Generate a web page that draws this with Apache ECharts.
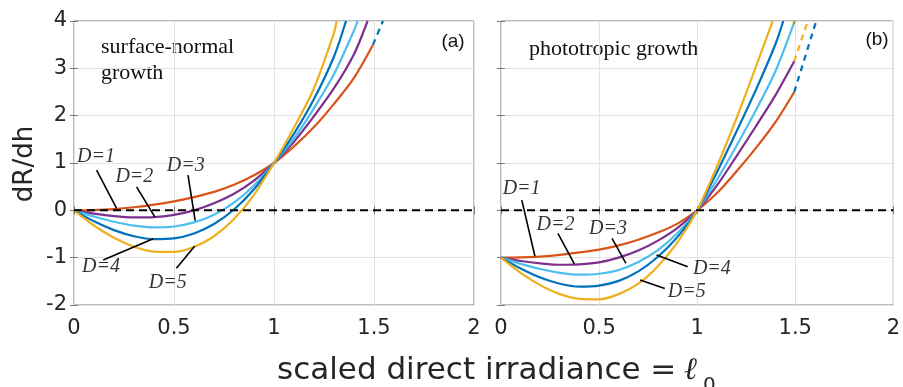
<!DOCTYPE html>
<html><head><meta charset="utf-8">
<script src="https://cdn.jsdelivr.net/npm/echarts@6/dist/echarts.min.js"></script>
<style>html,body{margin:0;padding:0;background:#fff}#c{width:903px;height:387px}</style>
</head><body><div id="c"></div>
<script>
// ---- data ----
const xTicks = [0, 0.5, 1, 1.5, 2];
const yTicks = [-2, -1, 0, 1, 2, 3, 4];
const curveNames = ['D=1', 'D=2', 'D=3', 'D=4', 'D=5'];
const curveColors = ['#D95319', '#7E2F8E', '#4DBEEE', '#0072BD', '#EDB120'];

// panel (a): surface-normal growth
const leftD1 = [[0,0],[0.1,0.005],[0.2,0.025],[0.3,0.065],[0.4,0.12],[0.5,0.19],[0.6,0.28],[0.7,0.39],[0.8,0.54],[0.9,0.74],[1,1],[1.1,1.35],[1.2,1.76],[1.3,2.25],[1.4,2.8],[1.495,3.5]];
const leftD2 = [[0,0],[0.1,-0.071],[0.2,-0.124],[0.3,-0.15],[0.4,-0.143],[0.5,-0.095],[0.6,0],[0.7,0.15],[0.8,0.35],[0.9,0.63],[1,1],[1.1,1.45],[1.2,1.99],[1.3,2.58],[1.4,3.3],[1.468,4]];
const leftD3 = [[0,0],[0.1,-0.13],[0.2,-0.241],[0.3,-0.322],[0.4,-0.359],[0.5,-0.341],[0.6,-0.255],[0.7,-0.091],[0.8,0.165],[0.9,0.525],[1,1],[1.1,1.52],[1.2,2.16],[1.3,2.88],[1.4,3.8],[1.418,4]];
const leftD4 = [[0,0],[0.1,-0.232],[0.2,-0.418],[0.3,-0.547],[0.4,-0.609],[0.5,-0.594],[0.6,-0.491],[0.7,-0.29],[0.8,0.018],[0.9,0.445],[1,1],[1.1,1.62],[1.2,2.35],[1.3,3.25],[1.36,4]];
const leftD5 = [[0,0],[0.1,-0.32],[0.2,-0.58],[0.3,-0.769],[0.4,-0.872],[0.5,-0.879],[0.6,-0.774],[0.7,-0.547],[0.8,-0.184],[0.9,0.328],[1,1],[1.1,1.75],[1.2,2.58],[1.3,3.75],[1.313,4]];
const leftDashBlue = [[1.495,3.5],[1.545,4]];

// panel (b): phototropic growth
const rightD1 = [[0,-1],[0.1,-0.995],[0.2,-0.98],[0.3,-0.94],[0.4,-0.89],[0.5,-0.83],[0.6,-0.74],[0.7,-0.62],[0.8,-0.47],[0.9,-0.28],[1,0],[1.1,0.36],[1.2,0.82],[1.3,1.32],[1.4,1.87],[1.495,2.5]];
const rightD2 = [[0,-1],[0.1,-1.07],[0.2,-1.12],[0.3,-1.15],[0.4,-1.14],[0.5,-1.1],[0.6,-1.0],[0.7,-0.85],[0.8,-0.64],[0.9,-0.37],[1,0],[1.1,0.52],[1.2,1.14],[1.3,1.78],[1.4,2.44],[1.495,3.15]];
const rightD3 = [[0,-1],[0.1,-1.13],[0.2,-1.24],[0.3,-1.32],[0.4,-1.36],[0.5,-1.34],[0.6,-1.26],[0.7,-1.09],[0.8,-0.84],[0.9,-0.48],[1,0],[1.1,0.64],[1.2,1.36],[1.3,2.12],[1.4,2.95],[1.49,3.92]];
const rightD4 = [[0,-1],[0.1,-1.23],[0.2,-1.42],[0.3,-1.55],[0.4,-1.61],[0.5,-1.59],[0.6,-1.49],[0.7,-1.29],[0.8,-0.98],[0.9,-0.56],[1,0],[1.1,0.8],[1.2,1.66],[1.3,2.55],[1.4,3.52],[1.439,4]];
const rightD5 = [[0,-1],[0.1,-1.32],[0.2,-1.58],[0.3,-1.77],[0.4,-1.87],[0.5,-1.88],[0.6,-1.77],[0.7,-1.55],[0.8,-1.18],[0.9,-0.67],[1,0],[1.1,0.92],[1.2,1.94],[1.3,3.04],[1.385,4]];
const rightDashBlue = [[1.495,2.5],[1.607,4]];
const rightDashYellow = [[1.495,3.15],[1.564,4]];
const rightDashGreen = [[1.49,3.92],[1.497,4]];

const zeroLine = [[0,0],[2,0]];

// annotation anchors (data units)
const leftLabelPos = [[0.11,1.13],[0.302,0.707],[0.559,0.939],[0.135,-1.19],[0.469,-1.53]];
const leftLeaders = [[[0.113,0.848],[0.213,0.04]],[[0.313,0.496],[0.404,-0.137]],[[0.570,0.743],[0.606,-0.22]],[[0.146,-1.051],[0.396,-0.6]],[[0.512,-1.226],[0.603,-0.76]]];
const rightLabelPos = [[0.105,0.46],[0.278,-0.31],[0.545,-0.38],[1.075,-1.23],[0.947,-1.72]];
const rightLeaders = [[[0.106,0.215],[0.173,-0.97]],[[0.290,-0.487],[0.374,-1.13]],[[0.566,-0.593],[0.637,-1.12]],[[0.793,-0.945],[0.952,-1.19]],[[0.709,-1.47],[0.835,-1.65]]];

// ---- chart ----
const SANS = '"DejaVu Sans", "Liberation Sans", sans-serif';
const SERIF = '"Liberation Serif", "DejaVu Serif", serif';
const chart = echarts.init(document.getElementById('c'), null, {renderer: 'canvas'});

function curve(data, color, xi, dashed) {
  return {type: 'line', data: data, xAxisIndex: xi, yAxisIndex: xi, showSymbol: false, symbol: 'none',
    smooth: 0.3, silent: true, z: 3,
    lineStyle: {color: color, width: 2.2, type: dashed ? [6, 5] : 'solid'}};
}
const series = [];
const leftCurves = [leftD1, leftD2, leftD3, leftD4, leftD5];
const rightCurves = [rightD1, rightD2, rightD3, rightD4, rightD5];
leftCurves.forEach((d, i) => series.push(curve(d, curveColors[i], 0, false)));
rightCurves.forEach((d, i) => series.push(curve(d, curveColors[i], 1, false)));
series.push(curve(leftDashBlue, '#0072BD', 0, true));
series.push(curve(rightDashBlue, '#0072BD', 1, true));
series.push(curve(rightDashYellow, '#EDB120', 1, true));
series.push(curve(rightDashGreen, '#77AC30', 1, true));
[0, 1].forEach(xi => series.push({type: 'line', data: zeroLine, xAxisIndex: xi, yAxisIndex: xi, symbol: 'none', silent: true, z: 5,
  lineStyle: {color: '#000', width: 2, type: [8, 5]}}));
function leaders(list, xi) {
  list.forEach(seg => series.push({type: 'line', data: seg, xAxisIndex: xi, yAxisIndex: xi, symbol: 'none', silent: true, z: 6,
    lineStyle: {color: '#000', width: 1.6}}));
}
leaders(leftLeaders, 0); leaders(rightLeaders, 1);
function labels(pos, xi) {
  series.push({type: 'scatter', xAxisIndex: xi, yAxisIndex: xi, symbolSize: 1, silent: true, z: 7,
    itemStyle: {color: 'rgba(0,0,0,0)'},
    data: pos.map((p, i) => ({value: p, name: curveNames[i]})),
    label: {show: true, position: 'inside', formatter: p => p.name,
      fontFamily: SERIF, fontStyle: 'italic', fontSize: 20, color: '#000'}});
}
labels(leftLabelPos, 0); labels(rightLabelPos, 1);

const gridBase = {top: 21, height: 284, show: true, borderColor: '#7a7a7a', borderWidth: 1, backgroundColor: '#fff', containLabel: false};
function xAx(gi, pos, showLabel) {
  return {type: 'value', gridIndex: gi, position: pos, min: xTicks[0], max: xTicks[xTicks.length-1], interval: 0.5,
    axisLine: {show: false},
    axisTick: {show: true, inside: true, length: 4, lineStyle: {color: '#7a7a7a'}},
    splitLine: {show: pos === 'bottom', lineStyle: {color: '#e3e3e3', width: 1}},
    axisLabel: {show: showLabel, margin: 13, fontFamily: SANS, fontSize: 21, color: '#262626', formatter: v => String(v)}};
}
function yAx(gi, pos, showLabel) {
  return {type: 'value', gridIndex: gi, position: pos, min: yTicks[0], max: yTicks[yTicks.length-1], interval: 1,
    axisLine: {show: false},
    axisTick: {show: true, inside: true, length: 4, lineStyle: {color: '#7a7a7a'}},
    splitLine: {show: pos === 'left', lineStyle: {color: '#e3e3e3', width: 1}},
    axisLabel: {show: showLabel, margin: 7, fontFamily: SANS, fontSize: 21, color: '#262626'}};
}

chart.setOption({
  animation: false,
  backgroundColor: '#fff',
  grid: [Object.assign({left: 74, width: 400}, gridBase), Object.assign({left: 501, width: 397}, gridBase)],
  xAxis: [xAx(0, 'bottom', true), xAx(1, 'bottom', true), xAx(0, 'top', false), xAx(1, 'top', false)],
  yAxis: [yAx(0, 'left', true), yAx(1, 'left', false), yAx(0, 'right', false), yAx(1, 'right', false)],
  series: series,
  graphic: [
    {type: 'text', x: 101, y: 47, style: {text: 'surface-normal', font: '22px ' + SERIF, fill: '#111', verticalAlign: 'middle'}},
    {type: 'text', x: 101, y: 73, style: {text: 'growth', font: '22px ' + SERIF, fill: '#111', verticalAlign: 'middle'}},
    {type: 'text', x: 453, y: 42, style: {text: '(a)', font: '19px "Liberation Sans", sans-serif', fill: '#111', align: 'center', verticalAlign: 'middle'}},
    {type: 'text', x: 529, y: 49, style: {text: 'phototropic growth', font: '22px ' + SERIF, fill: '#111', verticalAlign: 'middle'}},
    {type: 'text', x: 877, y: 40, style: {text: '(b)', font: '19px "Liberation Sans", sans-serif', fill: '#111', align: 'center', verticalAlign: 'middle'}},
    {type: 'text', x: 25, y: 164, rotation: Math.PI / 2, style: {text: 'dR/dh', font: '26px ' + SANS, fill: '#262626', align: 'center', verticalAlign: 'middle'}},
    {type: 'text', x: 277, y: 371, style: {text: 'scaled direct irradiance = ', font: '31px ' + SANS, fill: '#262626', verticalAlign: 'middle'}},
    {type: 'text', x: 684, y: 371, style: {text: 'ℓ', font: 'italic 31px ' + SERIF, fill: '#262626', verticalAlign: 'middle'}},
    {type: 'text', x: 703, y: 386, style: {text: '0', font: '20px ' + SANS, fill: '#262626', verticalAlign: 'middle'}}
  ]
});
</script></body></html>
